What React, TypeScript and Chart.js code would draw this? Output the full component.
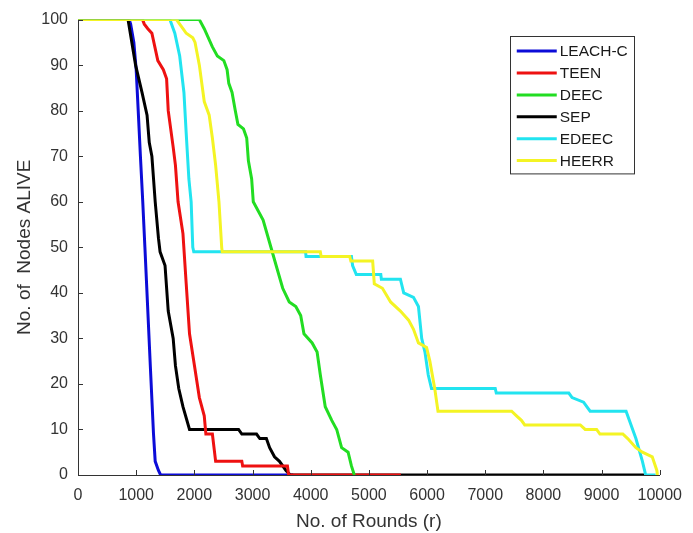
import React, { useEffect, useRef } from 'react';
import { Chart, registerables } from 'chart.js';

Chart.register(...registerables);

// ---------- data (rounds, nodes alive) ----------
const seriesNames = ['LEACH-C', 'TEEN', 'DEEC', 'SEP', 'EDEEC', 'HEERR'];
const seriesColors = ['#0c0cd8', '#ee1111', '#22dd22', '#000000', '#22e4f0', '#f4f424'];
// lower = drawn on top
const drawOrder = [5, 3, 1, 4, 2, 0];

const leachC: number[][] = [
  [0, 100], [880, 100], [905, 99], [960, 95], [1000, 89], [1035, 80], [1073, 70], [1113, 60],
  [1150, 50], [1186, 40], [1243, 24], [1298, 9], [1327, 3], [1383, 1], [1420, 0], [3700, 0],
];
const teen: number[][] = [
  [0, 100], [1110, 100], [1140, 99], [1200, 98], [1270, 97], [1372, 91], [1467, 89], [1523, 87],
  [1551, 80], [1636, 72], [1675, 68], [1720, 60], [1804, 53], [1860, 42], [1917, 31], [2002, 24],
  [2086, 17], [2170, 13], [2198, 9], [2310, 9], [2366, 3], [2816, 3], [2830, 2], [3600, 2],
  [3620, 0], [5550, 0],
];
const deec: number[][] = [
  [0, 100], [2086, 100], [2170, 98], [2310, 94], [2395, 92], [2507, 91], [2563, 89], [2592, 86],
  [2648, 84], [2704, 80], [2749, 77], [2845, 76], [2900, 74], [2929, 69], [2985, 65], [3013, 60],
  [3182, 56], [3294, 51], [3406, 46], [3519, 41], [3631, 38], [3744, 37], [3828, 35], [3884, 31],
  [4025, 29], [4110, 27], [4165, 22], [4250, 15], [4362, 12], [4447, 10], [4531, 6], [4643, 5],
  [4700, 2], [4750, 0],
];
const sep: number[][] = [
  [0, 100], [860, 100], [990, 90], [1100, 84], [1187, 79], [1225, 73], [1270, 70], [1327, 60],
  [1383, 52], [1411, 49], [1496, 46], [1551, 36], [1636, 30], [1675, 24], [1732, 19], [1804, 15],
  [1917, 10], [2760, 10], [2816, 9], [3069, 9], [3125, 8], [3238, 8], [3294, 6], [3378, 4],
  [3463, 3], [3575, 1], [3650, 0], [9730, 0],
];
const edeec: number[][] = [
  [0, 100], [1580, 100], [1664, 97], [1748, 92], [1821, 84], [1860, 75], [1906, 65], [1945, 60],
  [1973, 50], [1990, 49], [3912, 49], [3920, 48], [4700, 48], [4720, 46], [4784, 44], [5205, 44],
  [5215, 43], [5542, 43], [5599, 40], [5767, 39], [5852, 37], [5908, 30], [5964, 27], [6020, 22],
  [6076, 19], [7172, 19], [7190, 18], [8437, 18], [8493, 17], [8690, 16], [8803, 14], [9421, 14],
  [9477, 12], [9590, 8], [9702, 3], [9758, 0], [9930, 0],
];
const heerr: number[][] = [
  [0, 100], [1692, 100], [1804, 98], [1860, 97], [1973, 96], [2012, 95], [2086, 90], [2170, 82],
  [2255, 79], [2310, 74], [2366, 68], [2423, 60], [2470, 50], [2479, 49], [4165, 49], [4180, 48],
  [4671, 48], [4690, 47], [5065, 47], [5093, 42], [5233, 41], [5373, 38], [5542, 36], [5683, 34],
  [5767, 32], [5852, 29], [5992, 28], [6048, 25], [6132, 19], [6188, 14], [7454, 14], [7538, 13],
  [7622, 12], [7679, 11], [8634, 11], [8718, 10], [8915, 10], [8971, 9], [9365, 9], [9449, 8],
  [9590, 6], [9702, 5], [9871, 4], [9950, 1], [9960, 0],
];
const seriesData = [leachC, teen, deec, sep, edeec, heerr];

const xTicks = [0, 1000, 2000, 3000, 4000, 5000, 6000, 7000, 8000, 9000, 10000];
const yTicks = [0, 10, 20, 30, 40, 50, 60, 70, 80, 90, 100];

const xTitle = 'No. of Rounds (r)';
const yTitle = 'No. of  Nodes ALIVE';

const FONT = '"Liberation Sans", Arial, Helvetica, sans-serif';
const TEXT = '#333333';
const AXIS = '#333333';

const tickMarkPlugin = {
  id: 'inwardTicks',
  afterDraw(chart: any) {
    const { ctx, chartArea, scales } = chart;
    ctx.save();
    ctx.strokeStyle = AXIS;
    ctx.lineWidth = 1;
    ctx.beginPath();
    for (const v of xTicks) {
      const px = Math.round(scales.x.getPixelForValue(v)) + 0.5;
      ctx.moveTo(px, chartArea.bottom);
      ctx.lineTo(px, chartArea.bottom - 5);
    }
    for (const v of yTicks) {
      const py = Math.round(scales.y.getPixelForValue(v)) + 0.5;
      ctx.moveTo(chartArea.left, py);
      ctx.lineTo(chartArea.left + 5, py);
    }
    ctx.stroke();
    ctx.restore();
  },
};

const legendPlugin = {
  id: 'boxLegend',
  afterDraw(chart: any) {
    const { ctx, chartArea } = chart;
    const x0 = chartArea.right - 150;
    const y0 = chartArea.top + 16;
    const w = 124;
    const rowH = 21.9;
    const h = rowH * seriesNames.length + 6;
    ctx.save();
    ctx.fillStyle = '#ffffff';
    ctx.fillRect(x0, y0, w, h);
    ctx.strokeStyle = '#333333';
    ctx.lineWidth = 1;
    ctx.strokeRect(Math.round(x0) + 0.5, Math.round(y0) + 0.5, w, h);
    ctx.font = `15.5px ${FONT}`;
    ctx.textBaseline = 'middle';
    ctx.textAlign = 'left';
    seriesNames.forEach((name, i) => {
      const cy = y0 + 15.5 + i * rowH;
      ctx.strokeStyle = seriesColors[i];
      ctx.lineWidth = 3;
      ctx.beginPath();
      ctx.moveTo(x0 + 7, cy);
      ctx.lineTo(x0 + 47, cy);
      ctx.stroke();
      ctx.fillStyle = '#1a1a1a';
      ctx.fillText(name, x0 + 50, cy + 1);
    });
    ctx.restore();
  },
};

export default function App() {
  const canvasRef = useRef<HTMLCanvasElement | null>(null);

  useEffect(() => {
    if (!canvasRef.current) return;
    const chart = new Chart(canvasRef.current, {
      type: 'line',
      data: {
        datasets: seriesNames.map((name, i) => ({
          label: name,
          data: seriesData[i].map(([x, y]) => ({ x, y })),
          borderColor: seriesColors[i],
          backgroundColor: seriesColors[i],
          borderWidth: 3,
          pointRadius: 0,
          tension: 0,
          fill: false,
          order: drawOrder[i],
        })),
      },
      options: {
        animation: false,
        responsive: false,
        maintainAspectRatio: false,
        layout: { padding: { left: 0, right: 22, top: 19, bottom: 0 } },
        plugins: {
          legend: { display: false },
          tooltip: { enabled: false },
        },
        scales: {
          x: {
            type: 'linear',
            min: 0,
            max: 10000,
            afterBuildTicks: (s: any) => {
              s.ticks = xTicks.map((v) => ({ value: v }));
            },
            afterFit: (s: any) => {
              s.height = 58;
            },
            grid: { display: false, drawTicks: false },
            border: { display: true, color: AXIS, width: 1 },
            ticks: {
              padding: 11,
              color: TEXT,
              font: { family: FONT, size: 16 },
              maxRotation: 0,
              autoSkip: false,
              callback: (v: any) => String(v),
            },
            title: {
              display: true,
              text: xTitle,
              color: TEXT,
              font: { family: FONT, size: 19 },
              padding: { top: 0, bottom: 0 },
            },
          },
          y: {
            type: 'linear',
            min: 0,
            max: 100,
            afterBuildTicks: (s: any) => {
              s.ticks = yTicks.map((v) => ({ value: v }));
            },
            afterFit: (s: any) => {
              s.width = 78;
            },
            grid: { display: false, drawTicks: false },
            border: { display: true, color: AXIS, width: 1 },
            ticks: {
              padding: 10,
              color: TEXT,
              font: { family: FONT, size: 16 },
              autoSkip: false,
              callback: (v: any) => String(v),
            },
            title: {
              display: true,
              text: yTitle,
              color: TEXT,
              font: { family: FONT, size: 19 },
              padding: { top: 13, bottom: 0 },
            },
          },
        },
      },
      plugins: [tickMarkPlugin, legendPlugin],
    } as any);
    return () => chart.destroy();
  }, []);

  return (
    <div style={{ position: 'fixed', left: 0, top: 0, width: 693, height: 533, background: '#ffffff' }}>
      <canvas ref={canvasRef} width={693} height={533} style={{ width: 693, height: 533, display: 'block' }} />
    </div>
  );
}
